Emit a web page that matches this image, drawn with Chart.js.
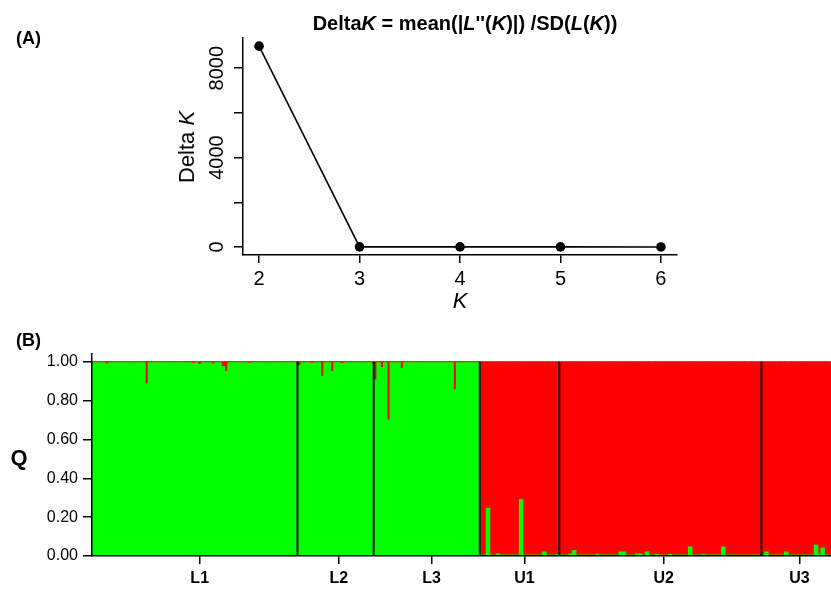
<!DOCTYPE html>
<html>
<head>
<meta charset="utf-8">
<script src="https://cdn.jsdelivr.net/npm/chart.js@4.4.1/dist/chart.umd.min.js"></script>
<style>
  body { margin: 0; background: #fff; }
  #wrap { position: relative; width: 831px; height: 593px; overflow: hidden; font-family: 'Liberation Sans', Arial, sans-serif; color: #000; }
  canvas { position: absolute; left: 0; }
  #chartA { top: 0; }
  #chartB { top: 330px; }
  .lbl { position: absolute; white-space: nowrap; line-height: 1; }
  #tagA { left: 16px; top: 29px; font-size: 18px; font-weight: bold; }
  #tagB { left: 16px; top: 331px; font-size: 18px; font-weight: bold; }
  #titleA { left: 65px; width: 800px; top: 13px; text-align: center; font-size: 20px; font-weight: bold; }
  #ylabA { left: 187px; top: 147px; font-size: 22px; transform: translate(-50%, -50%) rotate(-90deg); }
  #xlabA { left: 460px; top: 301px; font-size: 22px; font-style: italic; transform: translate(-50%, -50%); }
  #ylabB { left: 19px; top: 458px; font-size: 22px; font-weight: bold; transform: translate(-50%, -50%); }
</style>
</head>
<body>
<div id="wrap">
  <canvas id="chartA" width="831" height="320"></canvas>
  <canvas id="chartB" width="831" height="263"></canvas>
  <div class="lbl" id="tagA">(A)</div>
  <div class="lbl" id="titleA">Delta<i>K</i> = mean(|<i>L</i>''(<i>K</i>)|) /SD(<i>L</i>(<i>K</i>))</div>
  <div class="lbl" id="ylabA">Delta <i>K</i></div>
  <div class="lbl" id="xlabA">K</div>
  <div class="lbl" id="tagB">(B)</div>
  <div class="lbl" id="ylabB">Q</div>
</div>
<script>
// 面板A：Delta K
const kValues = [2, 3, 4, 5, 6];
const deltaK = [8985, 4.2, 1.6, 2.1, 0.8];
const deltaTicks = [0, 2000, 4000, 6000, 8000];
const deltaTickLabels = ['0', '', '4000', '', '8000'];

// 面板B：各群体个体的 Q 值（绿色簇）
const groups = ['L1', 'L2', 'L3', 'U1', 'U2', 'U3'];
const qTicks = [0, 0.2, 0.4, 0.6, 0.8, 1.0];

const greenL1 = [
  .994, .994, .994, .994, .988, .994, .994, .994, .994, .994,
  .994, .994, .994, .994, .994, .994, .885, .994, .994, .994,
  .994, .994, .994, .994, .994, .994, .994, .994, .994, .994,
  .990, .994, .985, .994, .994, .994, .988, .994, .994, .975,
  .950, .994, .994, .994, .994, .994, .994, .990, .994, .994,
  .994, .994, .994, .994, .994, .994, .994, .994, .994, .994,
  .994, .994
];
const greenL2 = [
  .980, .994, .994, .994, .990, .994, .994, .925, .994, .994,
  .950, .994, .994, .990, .994, .994, .994, .994, .994, .994,
  .994, .994, .994
];
const greenL3 = [
  .905, .994, .970, .994, .700, .994, .994, .994, .965, .994,
  .994, .994, .994, .994, .994, .994, .994, .994, .994, .994,
  .994, .994, .994, .994, .855, .994, .994, .994, .994, .994,
  .994, .994
];
const greenU1 = [
  .003, .003, .245, .003, .003, .010, .003, .003, .003, .003,
  .003, .003, .290, .003, .003, .003, .003, .003, .003, .020,
  .003, .003, .003, .008
];
const greenU2 = [
  .003, .003, .003, .010, .027, .003, .003, .003, .003, .003,
  .003, .008, .003, .003, .003, .003, .003, .003, .020, .020,
  .003, .003, .003, .010, .010, .003, .020, .003, .003, .008,
  .003, .003, .003, .008, .003, .003, .003, .003, .003, .046,
  .003, .003, .003, .008, .003, .003, .003, .003, .003, .046,
  .003, .003, .003, .003, .003, .003, .003, .003, .003, .003,
  .003
];
const greenU3 = [
  .003, .020, .003, .003, .003, .003, .003, .020, .003, .003,
  .003, .003, .003, .003, .003, .003, .055, .008, .040, .003,
  .003
];

Chart.defaults.font.family = "'Liberation Sans', Arial, sans-serif";
Chart.defaults.color = '#000';

// 组装面板B数据
const greenByGroup = [greenL1, greenL2, greenL3, greenU1, greenU2, greenU3];
const labelsB = [];
const green = [];
const red = [];
const groupStart = [];
greenByGroup.forEach((arr, g) => {
  groupStart.push(labelsB.length);
  arr.forEach((v, i) => {
    labelsB.push(groups[g] + '-' + (i + 1));
    green.push(v);
    red.push(+(1 - v).toFixed(3));
  });
});
// 标签放在每组中间
const tickIdx = groupStart.map((s, g) => Math.round(s + (greenByGroup[g].length + 1) / 2));

// 竖排的 y 轴刻度文字
const rotatedYLabels = {
  id: 'rotatedYLabels',
  afterDraw(chart) {
    const y = chart.scales.y;
    const ctx = chart.ctx;
    ctx.save();
    ctx.font = '20px "Liberation Sans", Arial, sans-serif';
    ctx.fillStyle = '#000';
    ctx.textAlign = 'center';
    ctx.textBaseline = 'middle';
    deltaTicks.forEach((v, i) => {
      if (!deltaTickLabels[i]) return;
      ctx.save();
      ctx.translate(y.right - 25.5, y.getPixelForValue(v));
      ctx.rotate(-Math.PI / 2);
      ctx.fillText(deltaTickLabels[i], 0, 0);
      ctx.restore();
    });
    ctx.restore();
  }
};

// 群体之间的黑色分隔线
const groupLines = {
  id: 'groupLines',
  afterDatasetsDraw(chart) {
    const x = chart.scales.x;
    const y = chart.scales.y;
    const ctx = chart.ctx;
    const half = (x.getPixelForValue(1) - x.getPixelForValue(0)) / 2;
    ctx.save();
    ctx.strokeStyle = '#000';
    ctx.lineWidth = 2;
    groupStart.slice(1).forEach(i => {
      const px = x.getPixelForValue(i) - half;
      ctx.beginPath();
      ctx.moveTo(px, y.getPixelForValue(1));
      ctx.lineTo(px, y.getPixelForValue(0));
      ctx.stroke();
    });
    ctx.restore();
  }
};

new Chart(document.getElementById('chartA'), {
  type: 'line',
  data: {
    datasets: [{
      data: kValues.map((k, i) => ({ x: k, y: deltaK[i] })),
      borderColor: '#000',
      borderWidth: 1.6,
      pointRadius: 4.8,
      pointBackgroundColor: '#000',
      pointBorderColor: '#000',
      pointBorderWidth: 0,
      tension: 0,
      fill: false
    }]
  },
  options: {
    responsive: false,
    animation: false,
    devicePixelRatio: 1,
    layout: { padding: { top: 38, right: 154, left: 0, bottom: 0 } },
    plugins: { legend: { display: false }, tooltip: { enabled: false } },
    scales: {
      x: {
        type: 'linear',
        min: 1.84,
        max: 6.16,
        afterBuildTicks: s => { s.ticks = kValues.map(v => ({ value: v })); },
        afterFit: s => { s.height = 65; },
        grid: { drawOnChartArea: false, tickLength: 8, color: '#000', lineWidth: 1.5 },
        border: { display: true, color: '#000', width: 1.5 },
        ticks: { font: { size: 20 }, color: '#000', padding: 4, maxRotation: 0, callback: v => String(v) }
      },
      y: {
        min: -360,
        max: 9350,
        afterBuildTicks: s => { s.ticks = deltaTicks.map(v => ({ value: v })); },
        afterFit: s => { s.width = 243; },
        grid: { drawOnChartArea: false, tickLength: 9, color: '#000', lineWidth: 1.5 },
        border: { display: true, color: '#000', width: 1.5 },
        ticks: { display: false }
      }
    }
  },
  plugins: [rotatedYLabels]
});

new Chart(document.getElementById('chartB'), {
  type: 'bar',
  data: {
    labels: labelsB,
    datasets: [
      { label: 'Cluster 1', data: green, backgroundColor: '#00ff00' },
      { label: 'Cluster 2', data: red, backgroundColor: '#ff0000' }
    ]
  },
  options: {
    responsive: false,
    animation: false,
    devicePixelRatio: 1,
    layout: { padding: { top: 24, right: 0, left: 0, bottom: 0 } },
    datasets: { bar: { barPercentage: 1, categoryPercentage: 1, borderWidth: 0, inflateAmount: 0.6 } },
    plugins: { legend: { display: false }, tooltip: { enabled: false } },
    scales: {
      x: {
        stacked: true,
        offset: true,
        afterBuildTicks: s => { s.ticks = tickIdx.map(v => ({ value: v })); },
        afterFit: s => { s.height = 37; },
        grid: { offset: false, drawOnChartArea: false, tickLength: 8, color: '#000', lineWidth: 1.5 },
        border: { display: true, color: '#000', width: 1.5, z: 1 },
        ticks: {
          autoSkip: false, maxRotation: 0, padding: 5, color: '#000',
          font: { size: 16, weight: 'bold' },
          callback: v => groups[tickIdx.indexOf(v)]
        }
      },
      y: {
        stacked: true,
        min: 0,
        max: 1.04,
        afterBuildTicks: s => { s.ticks = qTicks.map(v => ({ value: v })); },
        afterFit: s => { s.width = 92; },
        grid: { drawOnChartArea: false, tickLength: 9, color: '#000', lineWidth: 1.5 },
        border: { display: true, color: '#000', width: 1.5, z: 1 },
        ticks: { padding: 5, color: '#000', font: { size: 16 }, callback: v => v.toFixed(2) }
      }
    }
  },
  plugins: [groupLines]
});
</script>
</body>
</html>
